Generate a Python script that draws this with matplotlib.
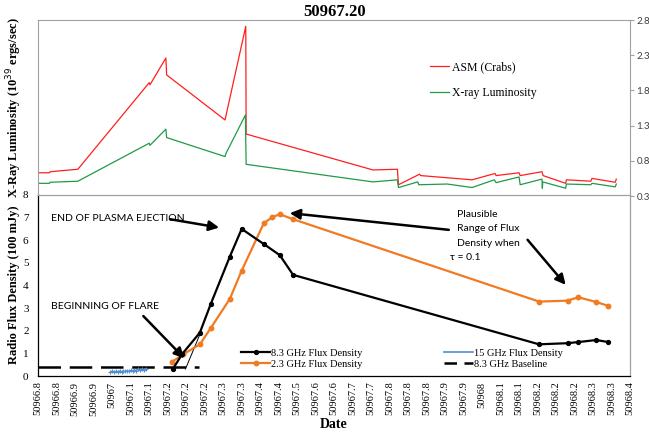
import matplotlib
matplotlib.use("Agg")
import matplotlib.pyplot as plt
from matplotlib.lines import Line2D

# X-ray panel: ASM count rate and derived luminosity
asm_date = [50966.800, 50966.830, 50966.832, 50966.907, 50967.100, 50967.102, 50967.145, 50967.147,
            50967.305, 50967.307, 50967.361, 50967.362, 50967.705, 50967.771, 50967.774, 50967.831,
            50967.834, 50967.973, 50968.035, 50968.038, 50968.100, 50968.103, 50968.162, 50968.165,
            50968.226, 50968.228, 50968.294, 50968.297, 50968.360, 50968.363]
asm_crabs = [0.63, 0.63, 0.645, 0.68, 1.91, 1.88, 2.26, 2.02,
             1.38, 1.43, 2.71, 1.18, 0.67, 0.68, 0.46, 0.61,
             0.59, 0.53, 0.62, 0.59, 0.63, 0.59, 0.645, 0.59,
             0.48, 0.53, 0.51, 0.55, 0.495, 0.54]

lum_date = [50966.800, 50966.830, 50966.832, 50966.907, 50967.100, 50967.102, 50967.145, 50967.147,
            50967.305, 50967.307, 50967.360, 50967.362, 50967.705, 50967.771, 50967.774, 50967.826,
            50967.829, 50967.906, 50967.973, 50968.033, 50968.038, 50968.100, 50968.103, 50968.162,
            50968.163, 50968.164, 50968.226, 50968.228, 50968.294, 50968.297, 50968.360, 50968.363]
lum_xray = [0.48, 0.48, 0.495, 0.51, 1.05, 1.02, 1.25, 1.13,
            0.86, 0.90, 1.45, 0.75, 0.50, 0.53, 0.42, 0.50,
            0.46, 0.47, 0.42, 0.53, 0.49, 0.57, 0.46, 0.54,
            0.41, 0.50, 0.41, 0.47, 0.46, 0.48, 0.43, 0.47]

# Radio panel
radio_date = [50967.164, 50967.189, 50967.237, 50967.266, 50967.318, 50967.350, 50967.410,
              50967.453, 50967.489, 50968.154, 50968.231, 50968.260, 50968.309, 50968.341]
flux_83 = [0.31, 0.97, 1.92, 3.17, 5.28, 6.50, 5.83, 5.34, 4.47, 1.40, 1.45, 1.50, 1.59, 1.50]

radio23_date = [50967.162, 50967.192, 50967.237, 50967.266, 50967.318, 50967.350, 50967.410,
                50967.433, 50967.453, 50967.489, 50968.154, 50968.231, 50968.260, 50968.309,
                50968.341]
flux_23 = [0.63, 0.96, 1.40, 2.11, 3.41, 4.66, 6.76, 7.02, 7.15, 6.93, 3.29, 3.33, 3.48, 3.27, 3.10]

date_15 = [50966.995, 50967.000, 50967.005, 50967.010, 50967.015, 50967.020, 50967.025,
           50967.030, 50967.035, 50967.040, 50967.045, 50967.050, 50967.055, 50967.060,
           50967.065, 50967.070, 50967.075, 50967.080, 50967.085, 50967.090]
flux_15 = [0.18, 0.22, 0.17, 0.21, 0.19, 0.23, 0.18, 0.22, 0.20, 0.24,
           0.21, 0.25, 0.22, 0.27, 0.24, 0.29, 0.26, 0.31, 0.28, 0.33]

baseline_date = [50966.800, 50967.234]
baseline_flux = [0.40, 0.40]

x_ticks = [round(50966.8 + 0.05 * i, 2) for i in range(33)]
x_ticklabels = [f"{t:g}" for t in x_ticks]
top_yticks = [0.3, 0.8, 1.3, 1.8, 2.3, 2.8]

SERIF = "Liberation Serif"
SANS = "Lato"
GRAY = "#a0a0a0"
C83, C23, C15 = "black", "#f07b22", "#4f8fd0"

fig = plt.figure(figsize=(6.49, 4.40), dpi=100)
W, H = 649.0, 440.0
left, right = 38.3, 630.0
ax_top = fig.add_axes([left / W, 1 - 196 / H, (right - left) / W, 176 / H])
ax_bot = fig.add_axes([left / W, 1 - 376 / H, (right - left) / W, 181 / H])

# ---- top panel ----
ax_top.plot(asm_date, asm_crabs, color="#ff1f1f", lw=0.9, label="ASM (Crabs)")
ax_top.plot(lum_date, lum_xray, color="#1f9a48", lw=0.9, label="X-ray Luminosity")
ax_top.set_xlim(50966.8, 50968.4)
ax_top.set_ylim(0.3, 2.8)
ax_top.set_xticks([])
ax_top.yaxis.tick_right()
ax_top.set_yticks(top_yticks)
ax_top.set_yticklabels([f"{v:.1f}" for v in top_yticks], family=SANS, fontsize=7, color="#404040")
ax_top.tick_params(axis="y", direction="out", length=3, color=GRAY, pad=1.5)
for sp in ax_top.spines.values():
    sp.set_color(GRAY)
    sp.set_linewidth(0.8)
ax_top.legend(loc="upper left", bbox_to_anchor=(0.652, 0.80), frameon=False,
              prop={"family": SERIF, "size": 8.5}, handlelength=1.6, handletextpad=0.3,
              labelspacing=1.15, borderpad=0)
ax_top.set_title("50967.20", family=SERIF, fontweight="bold", fontsize=12, pad=2)
fig.text(14 / W, 1 - 108 / H, "X-Ray Luminosity (10$^{39}$ ergs/sec)", rotation=90,
         ha="center", va="center", family=SERIF, fontweight="bold", fontsize=9)

# ---- bottom panel ----
ax_bot.plot(radio_date, flux_83, color=C83, lw=1.6, marker="o", ms=2.8, zorder=4)
ax_bot.plot(radio23_date, flux_23, color=C23, lw=1.6, marker="o", ms=3.2, zorder=3)
ax_bot.plot(date_15, flux_15, color=C15, lw=0.8, marker="+", ms=3, mew=0.8, zorder=3)
ax_bot.plot(baseline_date, baseline_flux, color="black", lw=1.8, ls=(0, (9, 3.5)), zorder=2)
ax_bot.plot([50967.198, 50967.240], [0.31, 1.96], color="black", lw=0.7, zorder=2)

ax_bot.set_xlim(50966.8, 50968.4)
ax_bot.set_ylim(0, 8)
ax_bot.set_xticks(x_ticks)
ax_bot.set_xticklabels(x_ticklabels, rotation=90, family=SERIF, fontsize=7.5)
ax_bot.set_yticks(range(9))
ax_bot.set_yticklabels([str(v) for v in range(9)], family=SERIF, fontsize=8)
ax_bot.tick_params(axis="both", length=0, pad=4)
ax_bot.tick_params(axis="y", pad=7)
ax_bot.spines["left"].set_color("black")
ax_bot.spines["bottom"].set_color("black")
ax_bot.spines["top"].set_color(GRAY)
ax_bot.spines["right"].set_color(GRAY)
for sp in ax_bot.spines.values():
    sp.set_linewidth(0.9)
ax_bot.set_xlabel("Date", family=SERIF, fontweight="bold", fontsize=10, labelpad=2)
fig.text(14 / W, 1 - 285 / H, "Radio Flux Density (100 mJy)", rotation=90,
         ha="center", va="center", family=SERIF, fontweight="bold", fontsize=9)

handles = [
    Line2D([], [], color=C83, lw=1.6, marker="o", ms=2.8),
    Line2D([], [], color=C23, lw=1.6, marker="o", ms=3.2),
    Line2D([], [], color=C15, lw=1.2),
    Line2D([], [], color="black", lw=1.8, ls=(0, (5, 3))),
]
labels = ["8.3 GHz Flux Density", "2.3 GHz Flux Density", "15 GHz Flux Density", "8.3 GHz Baseline"]
ax_bot.legend(handles, labels, loc="lower left", bbox_to_anchor=(0.334, 0.01), ncol=2,
              frameon=False, prop={"family": SERIF, "size": 7.5}, handlelength=2.8,
              handletextpad=0.1, columnspacing=7.8, labelspacing=0.15, borderpad=0,
              numpoints=1)

arrow = dict(arrowstyle="-|>,head_length=0.6,head_width=0.3", color="black", lw=1.8,
             shrinkA=0, shrinkB=0)
ax_bot.annotate("", xy=(50967.289, 6.56), xytext=(50967.156, 6.93), arrowprops=arrow)
ax_bot.text(50966.835, 6.97, "END OF PLASMA EJECTION", family=SANS, fontsize=7.5,
            ha="left", va="center")
ax_bot.annotate("", xy=(50967.195, 0.78), xytext=(50967.084, 2.65), arrowprops=arrow)
ax_bot.text(50966.835, 3.07, "BEGINNING OF FLARE", family=SANS, fontsize=7.5,
            ha="left", va="center")
ax_bot.annotate("", xy=(50967.480, 7.20), xytext=(50967.910, 6.46), arrowprops=arrow)
ax_bot.annotate("", xy=(50968.226, 4.03), xytext=(50968.123, 6.02), arrowprops=arrow)
for y, s in zip([7.15, 6.50, 5.87], ["Plausible", "Range of Flux", "Density when"]):
    ax_bot.text(50967.933, y, s, family=SANS, fontsize=7.5, ha="left", va="center")
ax_bot.text(50967.914, 5.23, "\u03c4 = 0.1", family=SANS, fontsize=7.5, ha="left", va="center")

fig.savefig("out.png", dpi=100)
